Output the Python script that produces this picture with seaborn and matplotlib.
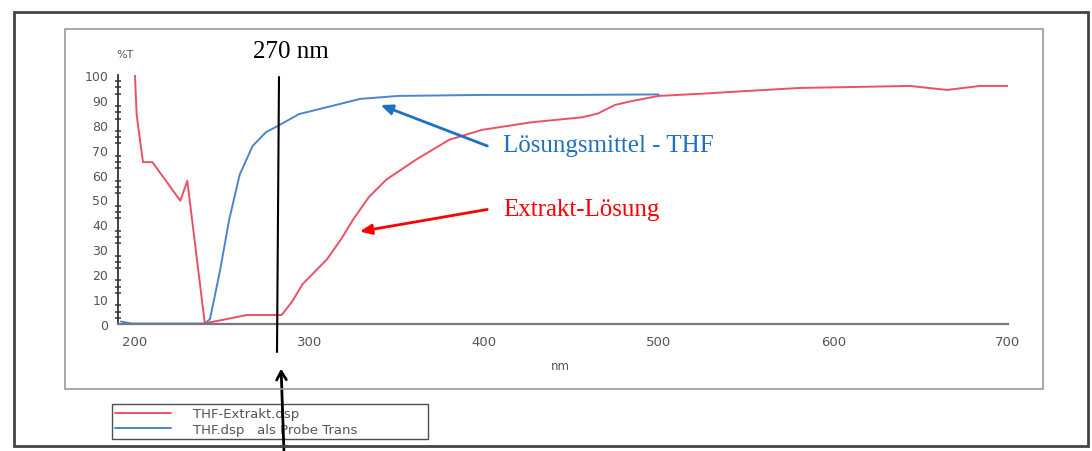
import numpy as np
import pandas as pd
import matplotlib
matplotlib.use("Agg")
import matplotlib.pyplot as plt
from matplotlib.ticker import MultipleLocator, FuncFormatter
from matplotlib.patches import Rectangle
from matplotlib.lines import Line2D
import seaborn as sns

# ---- data ----
extrakt_nm = [200, 201, 204.6, 210, 226, 230, 240, 247, 264, 284, 290, 296, 310, 318,
              325, 334, 344, 361, 380, 399, 427, 456, 465, 475, 485, 500, 525, 551,
              581, 613, 644, 665, 684, 700]
extrakt_T = [100, 84, 65, 65, 49.5, 57.5, 0.3, 1.2, 3.6, 3.6, 9, 16, 26, 34,
             42, 51, 58, 66, 74, 78, 81, 83, 84.5, 88, 89.6, 91.6, 92.5, 93.6,
             94.8, 95.2, 95.6, 94.0, 95.6, 95.6]
thf_nm = [192, 198, 240, 243, 248.6, 254, 260, 267.4, 275, 283, 294, 313, 329, 351,
          400, 450, 500]
thf_T = [1.0, 0.2, 0.2, 2, 21, 42, 60, 71.5, 77, 80, 84.3, 87.6, 90.4, 91.6,
         92.0, 92.0, 92.2]
series_labels = ["THF-Extrakt.dsp", "THF.dsp   als Probe Trans"]
x_ticks_labeled = [200, 300, 400, 500, 600, 700]
y_ticks = list(range(0, 101, 10))

df = pd.concat([
    pd.DataFrame({"nm": extrakt_nm, "T": extrakt_T, "series": series_labels[0]}),
    pd.DataFrame({"nm": thf_nm, "T": thf_T, "series": series_labels[1]}),
], ignore_index=True)

sns.set_style("white")
plt.rcParams["font.family"] = ["DejaVu Sans"]

W, H = 1092, 452
fig = plt.figure(figsize=(W / 100, H / 100), dpi=100)
fig.patch.set_facecolor("white")

ax_l, ax_r, ax_b, ax_t = 118, 1008, 325, 76
ax = fig.add_axes([ax_l / W, 1 - ax_b / H, (ax_r - ax_l) / W, (ax_b - ax_t) / H])
ax.set_facecolor("none")

red_c = "#ec5066"
blue_c = "#4a86cc"
palette = {series_labels[0]: red_c, series_labels[1]: blue_c}

sns.lineplot(data=df[df.series == series_labels[1]], x="nm", y="T", hue="series",
             palette=palette, sort=False, estimator=None, lw=1.4, ax=ax, legend=False)
sns.lineplot(data=df[df.series == series_labels[0]], x="nm", y="T", hue="series",
             palette=palette, sort=False, estimator=None, lw=1.4, ax=ax, legend=False)

ax.set_xlim(190.3, 700)
ax.set_ylim(0, 100)
for s in ["top", "right"]:
    ax.spines[s].set_visible(False)
ax.spines["left"].set_color("#333333")
ax.spines["left"].set_linewidth(1.3)
ax.spines["bottom"].set_color("#7a7488")
ax.spines["bottom"].set_linewidth(1.6)

ax.set_yticks(y_ticks)
ax.yaxis.set_minor_locator(MultipleLocator(2.5))
ax.xaxis.set_major_locator(MultipleLocator(50))
ax.xaxis.set_major_formatter(FuncFormatter(lambda v, p: f"{int(v)}" if int(v) % 100 == 0 else ""))
ax.tick_params(axis="y", which="major", direction="inout", length=8, width=1.3,
               colors="#333333", labelcolor="#555555", labelsize=9, pad=3)
ax.tick_params(axis="y", which="minor", direction="inout", length=5, width=1.1,
               colors="#333333", left=True)
ax.tick_params(axis="x", which="major", direction="inout", length=6, width=1.5,
               colors="#333333", labelcolor="#555555", labelsize=9.5, pad=5)
ax.set_xlabel("")
ax.set_ylabel("")

# axis titles
fig.text(125 / W, 1 - 55 / H, "%T", fontsize=8, color="#555555", ha="center", va="center")
fig.text(560 / W, 1 - 366 / H, "nm", fontsize=8.5, color="#555555", ha="center", va="center")

# frames
fig.add_artist(Rectangle((14 / W, 1 - 447 / H), (1088 - 14) / W, (447 - 13) / H,
                         transform=fig.transFigure, fill=False, ec="#444444", lw=2))
fig.add_artist(Rectangle((65 / W, 1 - 390 / H), (1043 - 65) / W, (390 - 30) / H,
                         transform=fig.transFigure, fill=False, ec="#9a9a9a", lw=1.2))

# legend
handles = [Line2D([], [], color=red_c, lw=1.4), Line2D([], [], color=blue_c, lw=1.4)]
leg = ax.legend(handles, series_labels, loc="upper left",
                bbox_to_anchor=(112 / W, 1 - 440 / H, 316 / W, 35 / H),
                bbox_transform=fig.transFigure, mode="expand", frameon=True,
                fancybox=False, edgecolor="#222222", fontsize=9.5, labelspacing=0.2,
                handlelength=4.2, handletextpad=1.7, borderpad=0.25, borderaxespad=0)
leg.get_frame().set_linewidth(1.0)
for t in leg.get_texts():
    t.set_color("#555555")

# annotations
serif = ["Liberation Serif", "DejaVu Serif"]
fig.text(291 / W, 1 - 52 / H, "270 nm", fontsize=18, family=serif, color="black",
         ha="center", va="center")
fig.add_artist(Line2D([279 / W, 277 / W], [1 - 78 / H, 1 - 353 / H],
                      transform=fig.transFigure, color="black", lw=1.5))
arrow_black = ax.annotate("", xy=(281, H - 367), xycoords="figure pixels",
                          xytext=(284, -2), textcoords="figure pixels",
                          arrowprops=dict(arrowstyle="->,head_length=0.6,head_width=0.35",
                                          color="black", lw=2))
arrow_black.set_zorder(10)

fig.text(503 / W, 1 - 146 / H, "Lösungsmittel - THF", fontsize=18, family=serif,
         color="#1f70c0", ha="left", va="center")
ax.annotate("", xy=(378, H - 105), xycoords="figure pixels",
            xytext=(490, H - 148), textcoords="figure pixels",
            arrowprops=dict(arrowstyle="-|>,head_length=0.7,head_width=0.3",
                            color="#1f70c0", lw=2))

fig.text(503 / W, 1 - 210 / H, "Extrakt-Lösung", fontsize=18, family=serif,
         color="#ff0000", ha="left", va="center")
ax.annotate("", xy=(357, H - 233), xycoords="figure pixels",
            xytext=(490, H - 210), textcoords="figure pixels",
            arrowprops=dict(arrowstyle="-|>,head_length=0.7,head_width=0.3",
                            color="#ff0000", lw=2))

fig.savefig("out.png", dpi=100, facecolor="white")
